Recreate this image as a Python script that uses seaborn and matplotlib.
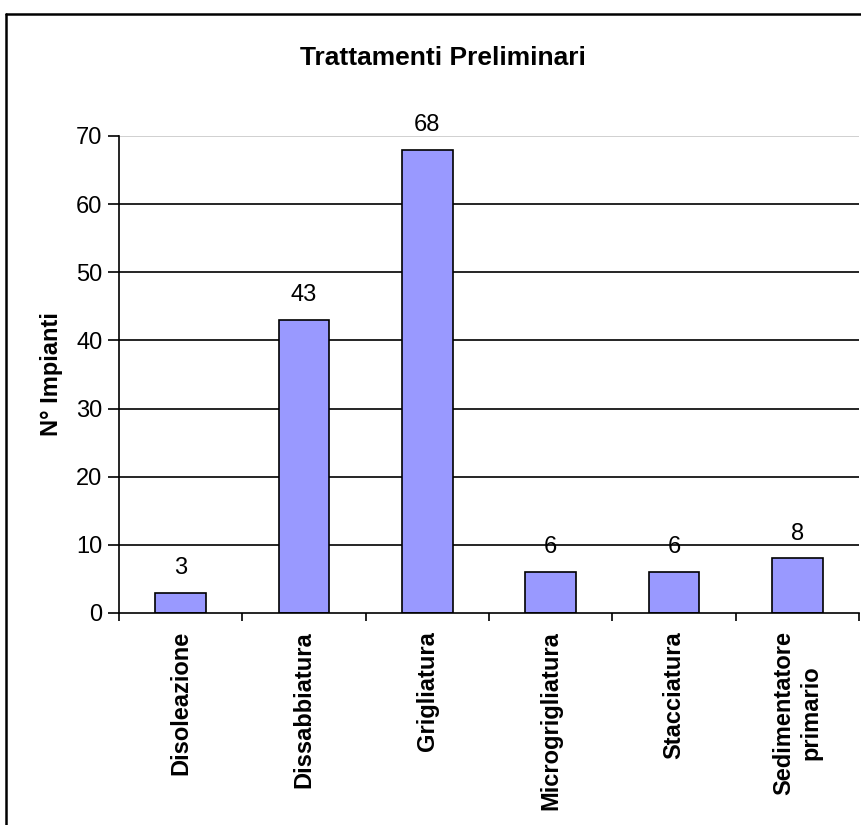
import matplotlib
matplotlib.use("Agg")
import matplotlib.pyplot as plt
import seaborn as sns
import pandas as pd
from matplotlib.lines import Line2D

# data
categories = ["Disoleazione", "Dissabbiatura", "Grigliatura",
              "Microgrigliatura", "Stacciatura", "Sedimentatore\nprimario"]
impianti = [3, 43, 68, 6, 6, 8]
y_ticks = [0, 10, 20, 30, 40, 50, 60, 70]

df = pd.DataFrame({"trattamento": categories, "n": impianti})

sns.set_theme(style="white")
plt.rcParams["font.family"] = ["Liberation Sans", "DejaVu Sans"]
plt.rcParams.update({"text.color": "black", "axes.labelcolor": "black",
                     "xtick.color": "black", "ytick.color": "black"})

fig = plt.figure(figsize=(8.61, 8.25), dpi=100)
ax = fig.add_axes([0.1382, 0.2570, 0.8595, 0.5782])

sns.barplot(data=df, x="trattamento", y="n", color="#9999FF",
            saturation=1, width=0.41, edgecolor="black", linewidth=1.2,
            ax=ax, zorder=3)

# gridlines: black, top one light grey
for v in y_ticks[1:-1]:
    ax.axhline(v, color="black", lw=1.2, zorder=1)
ax.axhline(y_ticks[-1], color="#c8c8c8", lw=1.2, zorder=1)

ax.set_ylim(0, 70)
ax.set_xlim(-0.5, len(categories) - 0.5)
ax.set_yticks(y_ticks)
ax.tick_params(axis="y", which="major", direction="out", length=8, width=1.2,
               color="black", labelsize=17, pad=4, left=True)

# category labels at centers (no tick), ticks at the boundaries
ax.set_xticks(range(len(categories)))
ax.set_xticklabels(categories, rotation=90, fontweight="bold", fontsize=17,
                   va="top", ha="center", multialignment="center")
ax.tick_params(axis="x", which="major", length=0, pad=13)
ax.set_xticks([i - 0.5 for i in range(len(categories) + 1)], minor=True)
ax.tick_params(axis="x", which="minor", direction="out", length=6, width=1.2,
               color="black", bottom=True)

for side in ["top", "right"]:
    ax.spines[side].set_visible(False)
for side in ["left", "bottom"]:
    ax.spines[side].set_color("black")
    ax.spines[side].set_linewidth(1.2)
    ax.spines[side].set_zorder(4)

ax.bar_label(ax.containers[0], padding=10, fontsize=17)

ax.set_xlabel("")
ax.set_ylabel("N° Impianti", fontsize=17, fontweight="bold", labelpad=9)

fig.text(0.515, 0.930, "Trattamenti Preliminari", ha="center", va="center",
         fontsize=19, fontweight="bold")

# chart frame (only top and left edges are in view)
fig.add_artist(Line2D([0.007, 1.0], [0.983, 0.983], color="black", lw=1.8,
                      transform=fig.transFigure))
fig.add_artist(Line2D([0.007, 0.007], [0.983, 0.0], color="black", lw=1.8,
                      transform=fig.transFigure))

fig.savefig("out.png", dpi=100)
